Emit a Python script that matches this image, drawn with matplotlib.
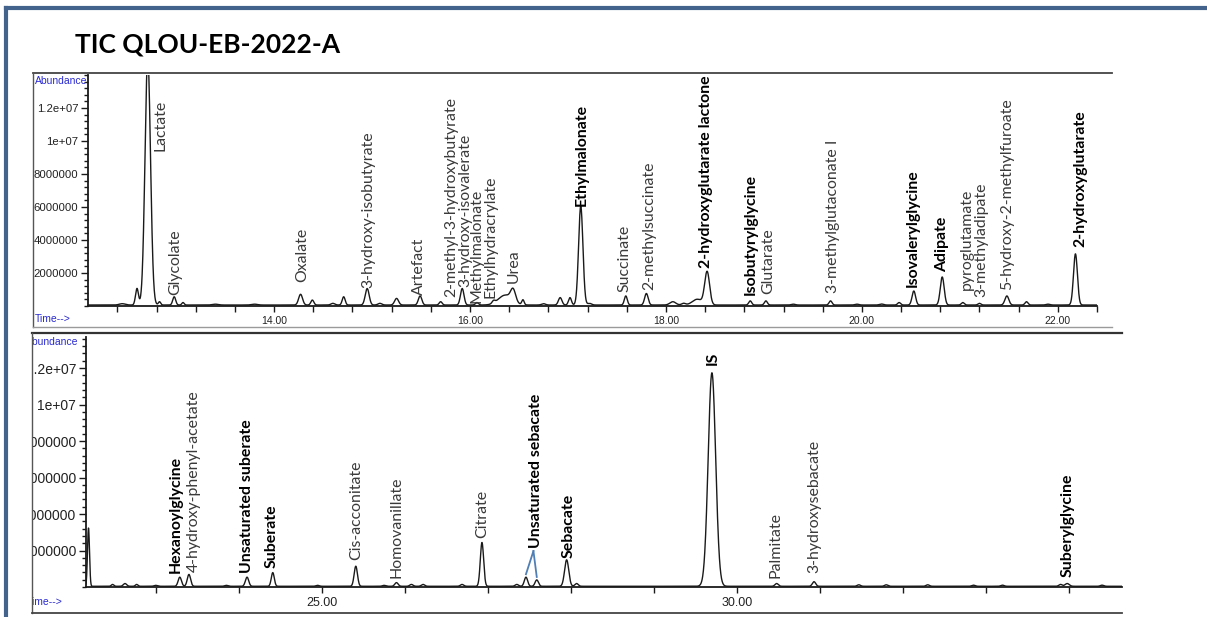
import numpy as np
import matplotlib
matplotlib.use("Agg")
import matplotlib.pyplot as plt
from matplotlib.lines import Line2D
from matplotlib.patches import Rectangle
from matplotlib.ticker import FixedLocator, MultipleLocator, FuncFormatter

W, H = 1207, 617

# peaks of the first segment (retention time in min, abundance, peak sigma in min)
top_t = [12.45, 12.60, 12.71, 12.83, 12.98, 13.07, 13.40, 13.80, 14.27, 14.39,
         14.60, 14.71, 14.95, 15.08, 15.25, 15.49, 15.70, 15.92, 16.07, 16.24,
         16.36, 16.44, 16.54, 16.75, 16.92, 17.02, 17.13, 17.22, 17.59, 17.80,
         18.07, 18.18, 18.32, 18.42, 18.86, 19.02, 19.30, 19.68, 19.95, 20.20,
         20.38, 20.53, 20.82, 21.03, 21.20, 21.48, 21.68, 21.90, 22.18]
top_h = [0.08e6, 1.0e6, 15.0e6, 0.2e6, 0.5e6, 0.15e6, 0.05e6, 0.05e6, 0.65e6, 0.3e6,
         0.1e6, 0.5e6, 1.0e6, 0.1e6, 0.4e6, 0.55e6, 0.2e6, 1.0e6, 0.15e6, 0.15e6,
         0.6e6, 0.7e6, 0.3e6, 0.08e6, 0.45e6, 0.45e6, 6.0e6, 0.1e6, 0.55e6, 0.7e6,
         0.2e6, 0.1e6, 0.35e6, 2.0e6, 0.25e6, 0.25e6, 0.05e6, 0.25e6, 0.05e6, 0.06e6,
         0.15e6, 0.85e6, 1.7e6, 0.15e6, 0.1e6, 0.55e6, 0.2e6, 0.05e6, 3.1e6]
top_w = [0.03, 0.015, 0.028, 0.012, 0.015, 0.012, 0.03, 0.03, 0.02, 0.015,
         0.02, 0.015, 0.02, 0.02, 0.02, 0.018, 0.015, 0.018, 0.015, 0.015,
         0.07, 0.025, 0.012, 0.02, 0.018, 0.015, 0.022, 0.02, 0.015, 0.018,
         0.03, 0.02, 0.05, 0.025, 0.015, 0.015, 0.02, 0.015, 0.02, 0.02,
         0.015, 0.018, 0.02, 0.015, 0.015, 0.02, 0.015, 0.02, 0.02]

# peaks of the second segment
bot_t = [22.19, 22.48, 22.63, 22.77, 23.00, 23.29, 23.40, 23.85, 24.10, 24.41,
         24.95, 25.41, 25.75, 25.90, 26.08, 26.22, 26.69, 26.93, 27.35, 27.46,
         27.59, 27.95, 28.07, 29.70, 30.48, 30.93, 31.47, 31.80, 32.30, 32.85,
         33.20, 33.90, 33.98, 34.40]
bot_h = [3.2e6, 0.1e6, 0.15e6, 0.1e6, 0.05e6, 0.5e6, 0.65e6, 0.05e6, 0.5e6, 0.75e6,
         0.05e6, 1.1e6, 0.05e6, 0.2e6, 0.1e6, 0.1e6, 0.1e6, 2.4e6, 0.1e6, 0.5e6,
         0.35e6, 1.45e6, 0.15e6, 11.7e6, 0.15e6, 0.25e6, 0.08e6, 0.08e6, 0.08e6, 0.06e6,
         0.06e6, 0.1e6, 0.15e6, 0.06e6]
bot_w = [0.012, 0.015, 0.02, 0.015, 0.02, 0.02, 0.02, 0.02, 0.02, 0.018,
         0.02, 0.02, 0.02, 0.02, 0.02, 0.02, 0.02, 0.02, 0.02, 0.02,
         0.02, 0.025, 0.02, 0.045, 0.02, 0.02, 0.02, 0.02, 0.02, 0.02,
         0.02, 0.02, 0.025, 0.02]

# compound names (bold = reported as significant)
top_names = ["Lactate", "Glycolate", "Oxalate", "3-hydroxy-isobutyrate", "Artefact",
             "2-methyl-3-hydroxybutyrate", "3-hydroxy-isovalerate", "Methylmalonate",
             "Ethylhydracrylate", "Urea", "Ethylmalonate", "Succinate", "2-methylsuccinate",
             "2-hydroxyglutarate lactone", "Isobutyrylglycine", "Glutarate",
             "3-methylglutaconate I", "Isovalerylglycine", "Adipate", "pyroglutamate",
             "3-methyladipate", "5-hydroxy-2-methylfuroate", "2-hydroxyglutarate"]
top_bold = ["Ethylmalonate", "2-hydroxyglutarate lactone", "Isobutyrylglycine",
            "Isovalerylglycine", "Adipate", "2-hydroxyglutarate"]
bot_names = ["Hexanoylglycine", "4-hydroxy-phenyl-acetate", "Unsaturated suberate",
             "Suberate", "Cis-acconitate", "Homovanillate", "Citrate",
             "Unsaturated sebacate", "Sebacate", "IS", "Palmitate", "3-hydroxysebacate",
             "Suberylglycine"]
bot_bold = ["Hexanoylglycine", "Unsaturated suberate", "Suberate", "Unsaturated sebacate",
            "Sebacate", "IS", "Suberylglycine"]

# where each label sits (time, abundance of the text foot)
top_lab_pos = [(12.84, 9.4e6), (12.99, 0.67e6), (14.29, 1.45e6), (14.96, 1.09e6),
               (15.48, 0.67e6), (15.81, 0.55e6), (15.95, 1.15e6), (16.07, 0.18e6),
               (16.21, 0.48e6), (16.45, 1.39e6), (17.14, 6.06e6), (17.58, 0.85e6),
               (17.83, 0.97e6), (18.41, 2.3e6), (18.87, 0.67e6), (19.04, 0.73e6),
               (19.70, 0.79e6), (20.52, 1.15e6), (20.82, 2.06e6), (21.07, 0.97e6),
               (21.22, 0.55e6), (21.48, 0.97e6), (22.23, 3.58e6)]
bot_lab_pos = [(23.24, 0.77e6), (23.46, 0.82e6), (24.10, 0.77e6), (24.40, 1.04e6),
               (25.42, 1.48e6), (25.90, 0.49e6), (26.93, 2.68e6), (27.58, 2.14e6),
               (27.97, 1.59e6), (29.71, 12.16e6), (30.47, 0.49e6), (30.94, 0.77e6),
               (33.99, 0.55e6)]


def trace(t, times, heights, widths, base):
    y = np.full_like(t, base)
    for t0, h, s in zip(times, heights, widths):
        y += h * np.exp(-0.5 * ((t - t0) / s) ** 2)
    return y


def px_axes(left, top, right, bottom):
    return fig.add_axes([left / W, 1 - bottom / H, (right - left) / W, (bottom - top) / H])


def fig_line(x0, y0, x1, y1, color, lw, z=6):
    fig.add_artist(Line2D([x0 / W, x1 / W], [1 - y0 / H, 1 - y1 / H],
                          transform=fig.transFigure, color=color, lw=lw, zorder=z))


def abund(v, pos):
    if v == 0:
        return ""
    return f"{v:g}" if v >= 1e7 else f"{v:.0f}"


fig = plt.figure(figsize=(W / 100, H / 100), dpi=100)
fig.patch.set_facecolor("white")

label_font = "Lato"
tick_font = "Liberation Sans"

panels = [
    dict(box=(88, 75, 1097, 306), xlim=(12.10, 22.40), ylim=(0, 14.0e6),
         peaks=(top_t, top_h, top_w), base=0.06e6, major=2.0, minor=0.4,
         names=top_names, bold=top_bold, pos=top_lab_pos, xfs=7.5, yfs=8.2),
    dict(box=(86, 337, 1122, 587), xlim=(22.16, 34.64), ylim=(0, 13.7e6),
         peaks=(bot_t, bot_h, bot_w), base=0.04e6, major=5.0, minor=1.0,
         names=bot_names, bold=bot_bold, pos=bot_lab_pos, xfs=9, yfs=10),
]

axes = []
for p in panels:
    ax = px_axes(*p["box"])
    t = np.linspace(p["xlim"][0], p["xlim"][1], 6000)
    ax.plot(t, trace(t, *p["peaks"], p["base"]), color="#1a1a1a", lw=1.0)
    ax.set_xlim(*p["xlim"])
    ax.set_ylim(*p["ylim"])
    ax.set_facecolor("none")
    for s in ("top", "right"):
        ax.spines[s].set_visible(False)
    for s in ("left", "bottom"):
        ax.spines[s].set_linewidth(1.3)
        ax.spines[s].set_color("#1a1a1a")
    ax.xaxis.set_major_locator(MultipleLocator(p["major"]))
    ax.xaxis.set_minor_locator(MultipleLocator(p["minor"]))
    ax.xaxis.set_major_formatter(FuncFormatter(lambda v, pos: f"{v:.2f}"))
    ax.yaxis.set_major_locator(FixedLocator([2e6, 4e6, 6e6, 8e6, 10e6, 12e6]))
    ax.yaxis.set_minor_locator(MultipleLocator(4e5))
    ax.yaxis.set_major_formatter(FuncFormatter(abund))
    ax.tick_params(axis="both", which="both", direction="out", color="#1a1a1a", width=1.0)
    ax.tick_params(axis="x", which="both", length=4, pad=3, labelsize=p["xfs"],
                   labelcolor="#222222")
    ax.tick_params(axis="y", which="major", length=5, pad=2, labelsize=p["yfs"],
                   labelcolor="#222222")
    ax.tick_params(axis="y", which="minor", length=3)
    for lbl in ax.get_xticklabels() + ax.get_yticklabels():
        lbl.set_fontfamily(tick_font)
    for name, (lx, ly) in zip(p["names"], p["pos"]):
        is_bold = name in p["bold"]
        ax.text(lx, ly, name, rotation=90, ha="center", va="bottom",
                fontsize=11.4, fontfamily=label_font,
                fontweight="bold" if is_bold else "normal",
                color="black" if is_bold else "#3a3a3a", clip_on=False)
    axes.append(ax)

# connector from "Unsaturated sebacate" to its two peaks
ax_b = axes[1]
foot = (27.55, 1.97e6)
for t0 in (27.46, 27.59):
    h0 = bot_h[bot_t.index(t0)]
    ax_b.plot([foot[0], t0], [foot[1], h0 + 0.2e6], color="#4f7fb5", lw=1.3, clip_on=False)

# instrument-style captions
blue = "#2a2ad0"
fig.text(35 / W, 1 - 81 / H, "Abundance", color=blue, fontsize=7.5, fontfamily=tick_font,
         va="center", ha="left", zorder=4)
fig.text(35 / W, 1 - 319 / H, "Time-->", color=blue, fontsize=7.5, fontfamily=tick_font,
         va="center", ha="left", zorder=4)
fig.text(26 / W, 1 - 342 / H, "Abundance", color=blue, fontsize=7.5, fontfamily=tick_font,
         va="center", ha="left", zorder=4)
fig.text(27 / W, 1 - 602 / H, "Time-->", color=blue, fontsize=7.5, fontfamily=tick_font,
         va="center", ha="left", zorder=4)

# mask the overflow left of the plot boxes
fig.add_artist(Rectangle((9 / W, 0), 23.5 / W, 1 - 70 / H, transform=fig.transFigure,
                         facecolor="white", edgecolor="none", zorder=5))

# plot boxes
fig_line(33, 73, 1112, 73, "#444444", 1.3)
fig_line(33, 73, 33, 327, "#555555", 1.0)
fig_line(33, 327, 1112, 327, "#9a9a9a", 1.0)
fig_line(32, 333, 1122, 333, "#333333", 1.6)
fig_line(32, 333, 32, 613, "#555555", 1.0)
fig_line(32, 613, 1122, 613, "#444444", 1.3)

# slide frame
fig_line(6, 8, W, 8, "#44638c", 3.0, z=7)
fig_line(6, 8, 6, H, "#44638c", 3.0, z=7)

fig.text(75 / W, 1 - 44 / H, "TIC QLOU-EB-2022-A", fontsize=19, fontweight="bold",
         fontfamily="Lato", va="center", ha="left", color="black")

fig.savefig("out.png", dpi=100)
